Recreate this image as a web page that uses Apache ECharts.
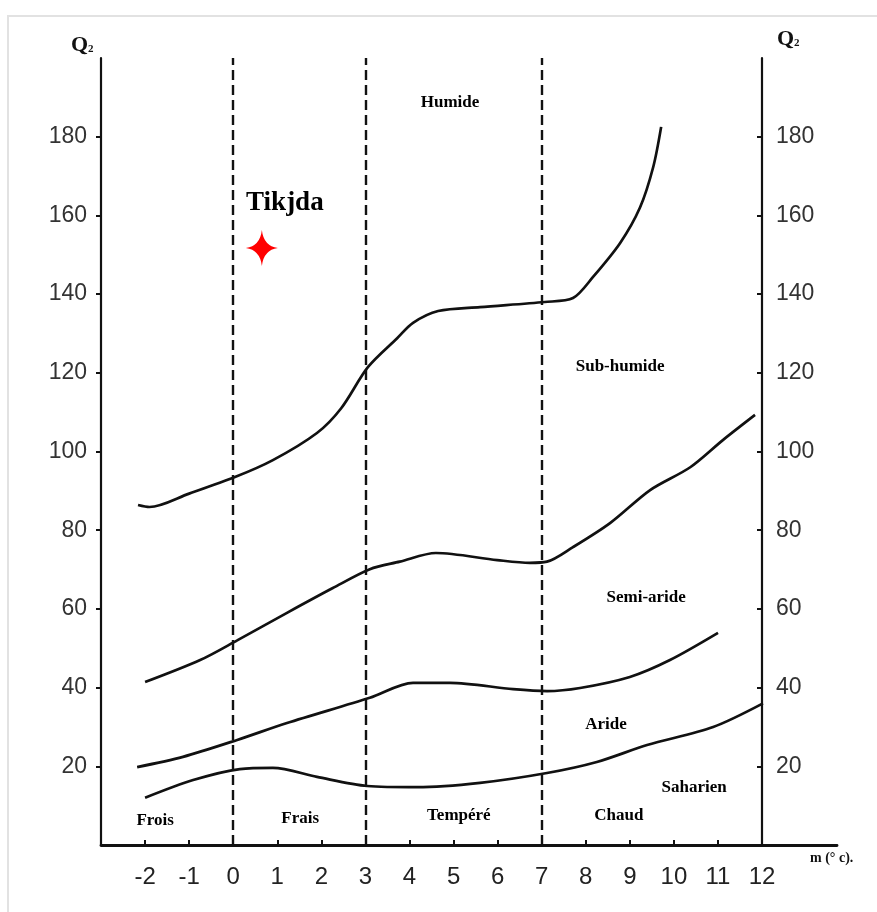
<!DOCTYPE html>
<html>
<head>
<meta charset="utf-8">
<script src="https://cdn.jsdelivr.net/npm/echarts@6/dist/echarts.min.js"></script>
<style>
  html, body { margin: 0; padding: 0; background: #fff; }
  #main { width: 877px; height: 912px; }
</style>
</head>
<body>
<div id="main"></div>
<script>
// tick labels
var xTicks = [-2, -1, 0, 1, 2, 3, 4, 5, 6, 7, 8, 9, 10, 11, 12];
var yTicks = [20, 40, 60, 80, 100, 120, 140, 160, 180];
// thermal limits (m, °C)
var thermalLimits = [0, 3, 7];

// bioclimatic boundaries [m, Q2]
var humideLimit = [[-2.16, 86.4], [-1.9, 85.9], [-1.0, 89.3], [0.04, 93.5], [0.9, 97.8], [1.9, 104.7], [2.45, 111], [3.06, 121.5], [3.72, 128.8], [4.08, 132.7], [4.65, 135.7], [5.6, 136.7], [7.07, 138], [7.71, 139], [8.16, 144.3], [8.78, 153], [9.23, 162], [9.53, 172.3], [9.71, 182.5]];
var subHumideLimit = [[-2.0, 41.4], [-0.75, 47], [0.09, 52], [1.22, 59], [2.26, 65.3], [3.1, 70.1], [3.78, 72], [4.6, 74.2], [5.99, 72.4], [6.73, 71.7], [7.12, 72], [7.71, 75.7], [8.55, 81.8], [9.46, 90.2], [10.37, 96], [11.11, 102.9], [11.84, 109.3]];
var semiArideLimit = [[-2.18, 19.8], [-1.14, 22.4], [0.09, 26.7], [1.22, 31], [3.1, 37.4], [4.08, 41.2], [4.92, 41.2], [6.35, 39.6], [7.12, 39.1], [7.87, 39.9], [9.0, 42.7], [9.91, 47], [11.0, 53.9]];
var arideLimit = [[-2, 12], [-0.91, 16.5], [0.15, 19.3], [0.9, 19.6], [1.9, 17.3], [3.04, 15], [4.17, 14.7], [5.6, 15.8], [7.12, 18.3], [8.25, 21.1], [9.39, 25.4], [10.89, 30], [12.02, 36]];

// station
var station = { name: 'Tikjda', m: 0.65, q2: 151.7 };

// zone labels [name, m, Q2]
var zoneNames = ['Humide', 'Sub-humide', 'Semi-aride', 'Aride', 'Saharien', 'Frois', 'Frais', 'Tempéré', 'Chaud'];
var zoneM = [4.92, 8.78, 9.37, 8.46, 10.46, -1.77, 1.52, 5.12, 8.75];
var zoneQ = [188.6, 121.7, 62.8, 30.5, 14.5, 6.1, 6.6, 7.4, 7.4];

var chart = echarts.init(document.getElementById('main'));

var serif = '"Liberation Serif", "DejaVu Serif", serif';
var sans = '"Liberation Sans", Arial, sans-serif';

function limitSeries(data) {
  return {
    type: 'line',
    data: data,
    smooth: 0.3,
    showSymbol: false,
    silent: true,
    lineStyle: { color: '#111', width: 2.7 },
    z: 3
  };
}

var zoneData = zoneNames.map(function (n, i) { return { name: n, value: [zoneM[i], zoneQ[i]] }; });

function yAxisOf(pos, offset, tickInside) {
  return {
    type: 'value',
    position: pos,
    offset: offset,
    min: 0,
    max: 200,
    interval: 20,
    splitLine: { show: false },
    axisLine: { show: true, onZero: false, lineStyle: { color: '#111', width: 2.2 } },
    axisTick: { show: true, inside: tickInside, length: 5, customValues: yTicks, lineStyle: { color: '#111', width: 2 } },
    axisLabel: { customValues: yTicks, margin: 14, color: '#333', fontFamily: sans, fontSize: 23 }
  };
}

var option = {
  animation: false,
  backgroundColor: '#fff',
  grid: { left: 101, right: 40, top: 58, bottom: 67 },
  xAxis: {
    type: 'value',
    min: -3,
    max: 13.7,
    interval: 1,
    splitLine: { show: false },
    axisLine: { onZero: false, lineStyle: { color: '#111', width: 2.8 } },
    axisTick: { inside: true, length: 5, customValues: xTicks, lineStyle: { color: '#111', width: 2 } },
    axisLabel: {
      customValues: xTicks,
      margin: 20,
      color: '#222',
      fontFamily: sans,
      fontSize: 24
    }
  },
  yAxis: [yAxisOf('left', 0, false), yAxisOf('right', -75, true)],
  series: [
    limitSeries(humideLimit),
    limitSeries(subHumideLimit),
    limitSeries(semiArideLimit),
    limitSeries(arideLimit),
    {
      type: 'line',
      data: [],
      silent: true,
      markLine: {
        symbol: 'none',
        silent: true,
        label: { show: false },
        lineStyle: { color: '#111', width: 2.4, type: [10, 5] },
        data: thermalLimits.map(function (v) { return { xAxis: v }; })
      }
    },
    {
      type: 'scatter',
      data: zoneData,
      symbolSize: 0,
      silent: true,
      itemStyle: { opacity: 1 },
      label: {
        show: true,
        position: 'inside',
        formatter: '{b}',
        color: '#000',
        fontFamily: serif,
        fontWeight: 'bold',
        fontSize: 17
      }
    },
    {
      type: 'scatter',
      data: [{ name: station.name, value: [station.m, station.q2] }],
      symbol: 'path://M0,-20 Q2.2,-2.2 20,0 Q2.2,2.2 0,20 Q-2.2,2.2 -20,0 Q-2.2,-2.2 0,-20 Z',
      symbolSize: [32, 36],
      itemStyle: { color: '#f00', opacity: 1 },
      silent: true,
      label: {
        show: true,
        formatter: '{b}',
        offset: [23, -45],
        position: 'inside',
        color: '#000',
        fontFamily: serif,
        fontWeight: 'bold',
        fontSize: 27
      },
      z: 5
    }
  ],
  graphic: [
    {
      type: 'rect',
      shape: { x: 8, y: 16, width: 900, height: 920 },
      style: { fill: 'none', stroke: '#e2e2e2', lineWidth: 2 },
      silent: true
    },
    {
      type: 'text',
      x: 71, y: 34,
      style: {
        text: 'Q{s|2}',
        fill: '#111',
        font: 'bold 22px ' + serif,
        rich: { s: { fontSize: 11, fontWeight: 'bold', fontFamily: serif, padding: [8, 0, 0, 0] } }
      }
    },
    {
      type: 'text',
      x: 777, y: 28,
      style: {
        text: 'Q{s|2}',
        fill: '#111',
        font: 'bold 22px ' + serif,
        rich: { s: { fontSize: 11, fontWeight: 'bold', fontFamily: serif, padding: [8, 0, 0, 0] } }
      }
    },
    {
      type: 'text',
      x: 810, y: 851,
      style: { text: 'm (° c).', fill: '#111', font: 'bold 14px ' + serif }
    }
  ]
};

chart.setOption(option);
</script>
</body>
</html>
